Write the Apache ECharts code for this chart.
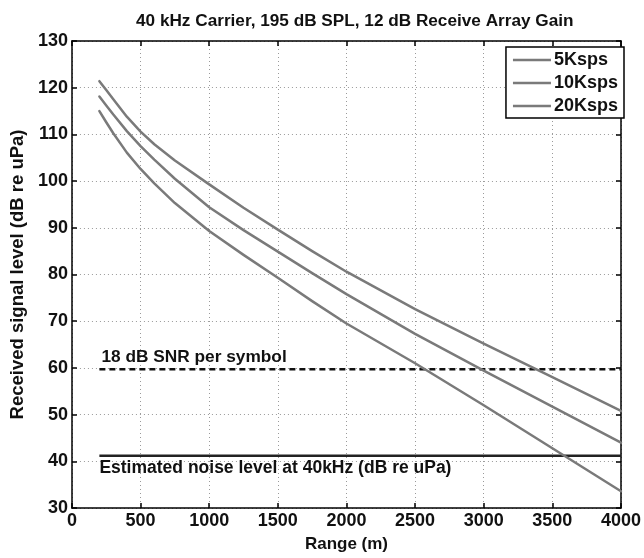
<!DOCTYPE html>
<html>
<head>
<meta charset="utf-8">
<script src="https://cdn.jsdelivr.net/npm/echarts@6/dist/echarts.min.js"></script>
<style>
html,body{margin:0;padding:0;background:#fff;}
#chart{width:644px;height:558px;}
</style>
</head>
<body>
<div id="chart"></div>
<script>
// ---- data ----
const titleText = '40 kHz Carrier, 195 dB SPL, 12 dB Receive Array Gain';
const xName = 'Range (m)';
const yName = 'Received signal level (dB re uPa)';
const rangeM = [200, 250, 300, 400, 500, 600, 750, 1000, 1250, 1500, 1750, 2000, 2500, 3000, 3500, 4000];
const seriesNames = ['5Ksps', '10Ksps', '20Ksps'];
const level5K  = [121.4, 119.5, 117.6, 113.8, 110.6, 107.9, 104.4, 99.3, 94.3, 89.6, 85.0, 80.6, 72.6, 65.2, 58.0, 50.8];
const level10K = [118.1, 116.2, 114.3, 110.7, 107.5, 104.6, 100.5, 94.4, 89.5, 84.9, 80.3, 75.8, 67.3, 59.4, 51.7, 44.0];
const level20K = [115.0, 112.6, 110.3, 106.1, 102.6, 99.5, 95.3, 89.3, 84.2, 79.3, 74.3, 69.5, 61.0, 52.0, 42.8, 33.6];
const snrRange = [200, 4000];
const snrLevel = [59.7, 59.7];
const snrLabel = '18 dB SNR per symbol';
const noiseRange = [200, 4000];
const noiseLevel = [41.2, 41.2];
const noiseLabel = 'Estimated noise level at 40kHz (dB re uPa)';
const xTicks = [0, 500, 1000, 1500, 2000, 2500, 3000, 3500, 4000];
const yTicks = [30, 40, 50, 60, 70, 80, 90, 100, 110, 120, 130];

// ---- chart ----
const FONT = '"Liberation Sans", Arial, sans-serif';
const pairs = (xs, ys) => xs.map((x, i) => [x, ys[i]]);
const chart = echarts.init(document.getElementById('chart'), null, {renderer: 'canvas'});
const curveColor = '#7a7a7a';

const baseX = {
  type: 'value', min: xTicks[0], max: xTicks[xTicks.length - 1], interval: 500,
  axisLine: {show: true, onZero: false, lineStyle: {color: '#000', width: 1.5}},
  axisTick: {show: true, inside: true, length: 5, lineStyle: {color: '#000', width: 1.5}},
  splitLine: {show: false}
};
const baseY = {
  type: 'value', min: yTicks[0], max: yTicks[yTicks.length - 1], interval: 10,
  axisLine: {show: true, onZero: false, lineStyle: {color: '#000', width: 1.5}},
  axisTick: {show: true, inside: true, length: 5, lineStyle: {color: '#000', width: 1.5}},
  splitLine: {show: false}
};

const curve = (name, values) => ({
  name: name, type: 'line', data: pairs(rangeM, values), smooth: false, symbol: 'none',
  lineStyle: {color: curveColor, width: 2.5, join: 'round', cap: 'round'},
  itemStyle: {color: curveColor}, z: 5
});

const option = {
  backgroundColor: '#fff',
  animation: false,
  title: {
    text: titleText, left: 131, top: 8,
    textStyle: {fontFamily: FONT, fontWeight: 'bold', fontSize: 17.2, color: '#111'}
  },
  legend: {
    data: seriesNames,
    orient: 'vertical', right: 20, top: 47,
    icon: 'rect', itemWidth: 38, itemHeight: 2.5, itemGap: 5,
    padding: [4, 6, 3, 7],
    borderColor: '#000', borderWidth: 1.5, backgroundColor: '#fff',
    textStyle: {fontFamily: FONT, fontWeight: 'bold', fontSize: 18, color: '#111', padding: [0, 0, 0, -2]}
  },
  grid: {left: 71, right: 17, top: 41, bottom: 44},
  xAxis: [
    Object.assign({}, baseX, {
      position: 'bottom', name: xName, nameLocation: 'middle', nameGap: 28,
      nameTextStyle: {fontFamily: FONT, fontWeight: 'bold', fontSize: 17, color: '#111'},
      axisLabel: {fontFamily: FONT, fontWeight: 'bold', fontSize: 18, color: '#111', margin: 4,
                  formatter: v => String(v)},
      splitLine: {show: true, lineStyle: {color: '#9a9a9a', type: [1, 3], width: 1}}
    }),
    Object.assign({}, baseX, {position: 'top', axisLabel: {show: false}})
  ],
  yAxis: [
    Object.assign({}, baseY, {
      position: 'left', name: yName, nameLocation: 'middle', nameGap: 44, nameRotate: 90,
      nameTextStyle: {fontFamily: FONT, fontWeight: 'bold', fontSize: 18.5, color: '#111'},
      axisLabel: {fontFamily: FONT, fontWeight: 'bold', fontSize: 18, color: '#111', margin: 4},
      splitLine: {show: true, lineStyle: {color: '#9a9a9a', type: [1, 3], width: 1}}
    }),
    Object.assign({}, baseY, {position: 'right', axisLabel: {show: false}})
  ],
  series: [
    curve(seriesNames[0], level5K),
    curve(seriesNames[1], level10K),
    curve(seriesNames[2], level20K),
    {name: 'snr', type: 'line', data: pairs(snrRange, snrLevel), symbol: 'none', silent: true,
     lineStyle: {color: '#111', width: 2.5, type: [6, 4]}, z: 4},
    {name: 'noise', type: 'line', data: pairs(noiseRange, noiseLevel), symbol: 'none', silent: true,
     lineStyle: {color: '#222', width: 2.5}, z: 4}
  ]
};
chart.setOption(option);

// annotation texts anchored through the axes
const pSnr = chart.convertToPixel({xAxisIndex: 0, yAxisIndex: 0}, [snrRange[0], snrLevel[0]]);
const pNoise = chart.convertToPixel({xAxisIndex: 0, yAxisIndex: 0}, [noiseRange[0], noiseLevel[0]]);
chart.setOption({
  graphic: [
    {type: 'text', left: pSnr[0] + 2, top: pSnr[1] - 21, z: 10,
     style: {text: snrLabel, fontFamily: FONT, fontWeight: 'bold', fontSize: 17.3, fill: '#111'}},
    {type: 'text', left: pNoise[0], top: pNoise[1] + 3, z: 10,
     style: {text: noiseLabel, fontFamily: FONT, fontWeight: 'bold', fontSize: 17.5, fill: '#111'}}
  ]
});
</script>
</body>
</html>
